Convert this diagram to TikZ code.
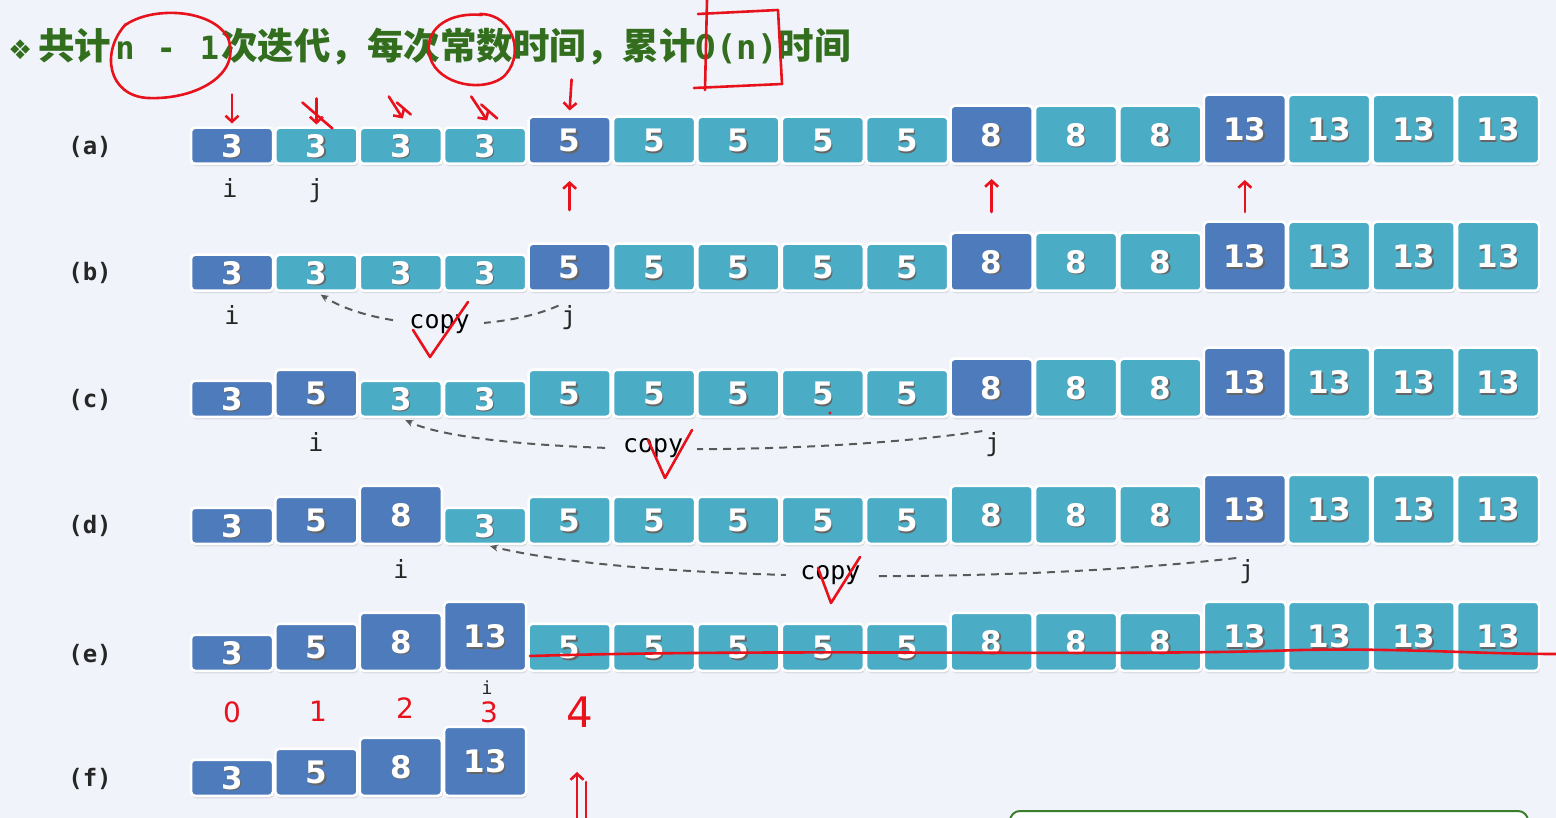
\documentclass[tikz,border=0pt]{standalone}
\usepackage{fontspec}
\usetikzlibrary{arrows.meta,shadows,calc}
\newfontfamily\cjk{Noto Sans CJK SC}
\newfontfamily\dejavu{DejaVu Sans}
\newfontfamily\dmono{DejaVu Sans Mono}
\definecolor{bg}{HTML}{F0F4FA}
\definecolor{dk}{HTML}{4E7BBB}
\definecolor{tl}{HTML}{4BACC6}
\definecolor{tgreen}{HTML}{336E1E}
\definecolor{hred}{HTML}{E8121C}
\definecolor{bgreen}{HTML}{3A7D2C}
\newcommand\numfont{\dejavu\bfseries\fontsize{31}{31}\selectfont}
\newcommand\labfont{\dmono\bfseries\fontsize{24}{26}\selectfont}
\newcommand\ijfont{\dmono\fontsize{25}{27}\selectfont}
\newcommand\copyfont{\dmono\fontsize{25}{27}\selectfont}
\newcommand\tcjk{\cjk\bfseries\fontsize{36.5}{40}\selectfont}
\newcommand\tmono{\dmono\bfseries\fontsize{32}{40}\selectfont}
\newcommand\tmonob{\dmono\bfseries\fontsize{34}{40}\selectfont}
\newcommand\shadowed[1]{\rlap{\kern1.5pt\raisebox{-1.5pt}{\textcolor{black!60}{#1}}}#1}
\tikzset{
  cell/.style={minimum width=82pt, inner sep=0pt, text depth=0pt, rounded corners=4pt,
    draw=white, line width=2.5pt, anchor=south, text=white, font=\numfont,
    drop shadow={opacity=0.22, shadow xshift=1pt, shadow yshift=-2.5pt}},
  rowlab/.style={font=\labfont, text=black!85, inner sep=0pt},
  ij/.style={font=\ijfont, text=black!85, inner sep=1pt, anchor=base},
  copyarr/.style={draw=black!65, line width=2pt, dash pattern=on 8pt off 6pt,
    -{Stealth[length=8pt,width=7pt]}, shorten >=5pt, shorten <=2pt},
  copylab/.style={fill=bg, font=\copyfont, text=black, inner xsep=14pt, inner ysep=2pt},
  hand/.style={draw=hred, line width=2.6pt, line cap=round, line join=round},
  handarr/.style={hand, -{Straight Barb[length=6pt,width=13pt]}},
  redtxt/.style={text=hred, font=\dejavu\fontsize{28}{30}\selectfont, inner sep=0pt},
}
\newcommand\cellrow[3]{%
  \foreach \v/\c [count=\k from 0] in {#3} {%
    \pgfmathsetmacro\h{(\v==3)*36+(\v==5)*47+(\v==8)*58+(\v==13)*69}%
    \node[cell, fill=\c, minimum height=\h] (#1\k) at ({232+84.4*\k},#2) {\shadowed{\v}};
  }}
\begin{document}
\begin{tikzpicture}[x=1pt,y=-1pt]
\useasboundingbox (0,0) rectangle (1556,818);
\fill[bg] (0,0) rectangle (1556,818);
\clip (0,0) rectangle (1556,818);

% title
\node[anchor=west, text=tgreen, inner sep=0pt] (title) at (8,47)
  {{\dejavu\fontsize{27}{32}\selectfont ❖}\hspace{6pt}{\tcjk 共计}{\tmono\hspace{4pt}n\hspace{22pt}-\hspace{24pt}1\hspace{2pt}}{\tcjk 次迭代，每次常数时间，累计}{\tmonob O(n)}{\tcjk 时间}};

% row labels
\node[rowlab] (la) at (90,147) {(a)};
\node[rowlab] (lb) at (90,273) {(b)};
\node[rowlab] (lc) at (90,400) {(c)};
\node[rowlab] (ld) at (90,526) {(d)};
\node[rowlab] (le) at (90,655) {(e)};
\node[rowlab] (lf) at (90,779) {(f)};

% cells
\cellrow{a}{165}{3/dk,3/tl,3/tl,3/tl,5/dk,5/tl,5/tl,5/tl,5/tl,8/dk,8/tl,8/tl,13/dk,13/tl,13/tl,13/tl}
\cellrow{b}{292}{3/dk,3/tl,3/tl,3/tl,5/dk,5/tl,5/tl,5/tl,5/tl,8/dk,8/tl,8/tl,13/dk,13/tl,13/tl,13/tl}
\cellrow{c}{418}{3/dk,5/dk,3/tl,3/tl,5/tl,5/tl,5/tl,5/tl,5/tl,8/dk,8/tl,8/tl,13/dk,13/tl,13/tl,13/tl}
\cellrow{d}{545}{3/dk,5/dk,8/dk,3/tl,5/tl,5/tl,5/tl,5/tl,5/tl,8/tl,8/tl,8/tl,13/dk,13/tl,13/tl,13/tl}
\cellrow{e}{672}{3/dk,5/dk,8/dk,13/dk,5/tl,5/tl,5/tl,5/tl,5/tl,8/tl,8/tl,8/tl,13/tl,13/tl,13/tl,13/tl}
\cellrow{f}{797}{3/dk,5/dk,8/dk,13/dk}

% i / j labels
\node[ij] (ai) at (230,198) {i};
\node[ij] (aj) at (316,198) {j};
\node[ij] (bi) at (232,325) {i};
\node[ij] (bj) at (569,325) {j};
\node[ij] (ci) at (316,451) {i};
\node[ij] (cj) at (993,451) {j};
\node[ij] (di) at (401,578) {i};
\node[ij] (dj) at (1247,578) {j};
\node[ij, font=\dmono\fontsize{18}{20}\selectfont] (ei) at (487,694) {i};

% copy arrows
\draw[copyarr] (bj.north west) .. controls (500,332) and (380,332) .. node[copylab] (cb) {copy} (b1.south);
\draw[copyarr] (cj.north west) .. controls (800,458) and (480,455) .. node[copylab] (cc) {copy} (c2.south);
\draw[copyarr] (dj.north west) .. controls (1000,585) and (640,582) .. node[copylab] (cd) {copy} (d3.south);

% green box (partly visible)
\draw[draw=bgreen, line width=2pt, fill=white, rounded corners=10pt] (1010,811) rectangle (1528,860);

% ---- red handwritten annotations ----
\draw[hand] (124,26) .. controls (150,6) and (212,8) .. (228,38) .. controls (242,75) and (195,100) .. (148,98) .. controls (108,96) and (100,52) .. (126,24);
\draw[hand] (480,14) .. controls (515,14) and (526,58) .. (502,78) .. controls (478,94) and (432,82) .. (429,52) .. controls (426,26) and (452,12) .. (482,15);
\draw[hand] (707,0) -- (705,90);
\draw[hand] (698,14) -- (778,10) -- (782,84) -- (694,88);

\draw[handarr] ([yshift=32pt]a0.north) -- ([yshift=3pt]a0.north);
\draw[handarr] ([yshift=28pt]a1.north) -- ([yshift=2pt]a1.north);
\draw[hand] ([xshift=-14pt,yshift=24pt]a1.north) -- ([xshift=16pt,yshift=-2pt]a1.north);
\draw[handarr] ([xshift=-12pt,yshift=30pt]a2.north) -- ([xshift=2pt,yshift=8pt]a2.north);
\draw[hand] ([xshift=-4pt,yshift=24pt]a2.north) -- ([xshift=10pt,yshift=12pt]a2.north);
\draw[handarr] ([xshift=-14pt,yshift=30pt]a3.north) -- ([xshift=2pt,yshift=6pt]a3.north);
\draw[hand] ([xshift=-4pt,yshift=22pt]a3.north) -- ([xshift=12pt,yshift=8pt]a3.north);
\draw[handarr] ([xshift=2pt,yshift=36pt]a4.north) -- ([yshift=5pt]a4.north);

\draw[handarr] ([yshift=-45pt]a4.south) -- ([yshift=-16pt]a4.south);
\draw[handarr] ([yshift=-47pt]a9.south) -- ([yshift=-14pt]a9.south);
\draw[handarr] ([yshift=-47pt]a12.south) -- ([yshift=-15pt]a12.south);

% check marks
\draw[hand] (413,330) -- (430,357) -- (468,302);
\draw[hand] (648,440) -- (665,478) -- (692,430);
\draw[hand] (818,568) -- (831,603) -- (860,557);
\fill[hred] (830,413) circle (1.6pt);

% strike line row (e)
\draw[hand] (530,656) .. controls (800,648) and (1100,657) .. (1300,650) .. controls (1400,648) and (1480,654) .. (1556,654);

% index digits
\node[redtxt] (d0) at (232,712) {0};
\node[redtxt] (d1) at (318,711) {1};
\node[redtxt] (d2) at (405,708) {2};
\node[redtxt] (d3) at (489,712) {3};
\node[redtxt, font=\dejavu\fontsize{42}{44}\selectfont] (d4) at (580,712) {4};

% double up arrow
\draw[handarr] (577,818) -- (577,772);
\draw[hand] (586,818) -- (586,782);
\end{tikzpicture}
\end{document}
